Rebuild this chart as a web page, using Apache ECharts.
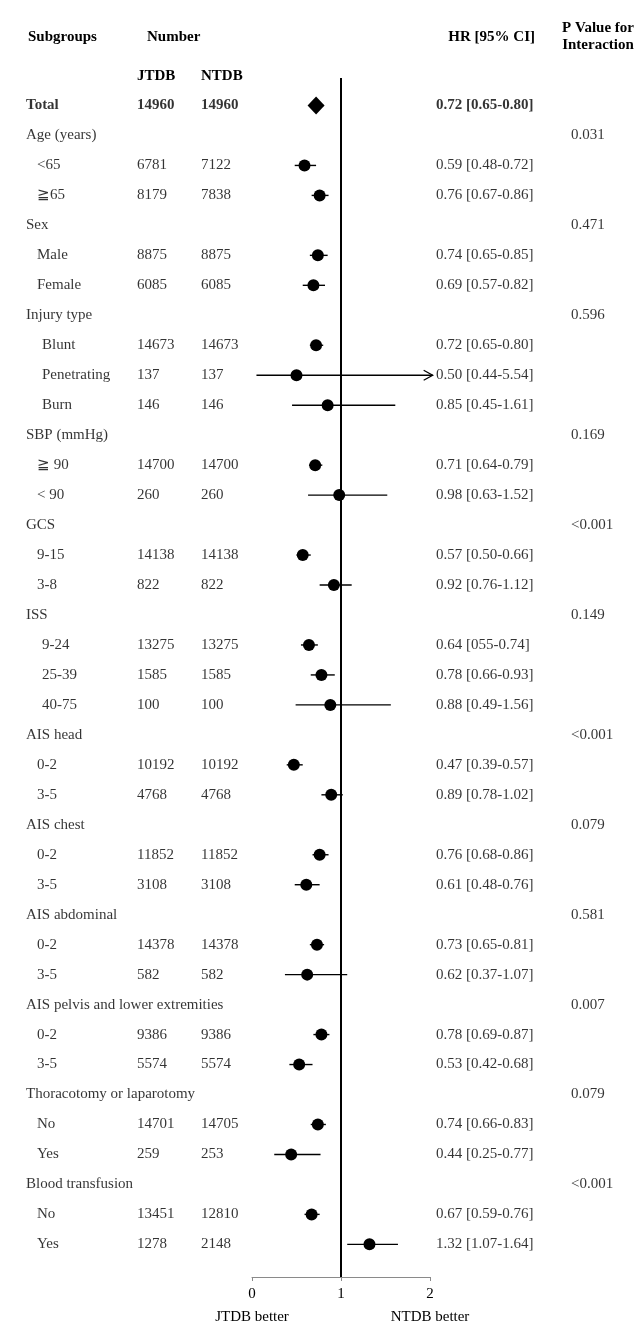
<!DOCTYPE html>
<html>
<head>
<meta charset="utf-8">
<script src="https://cdn.jsdelivr.net/npm/echarts@6/dist/echarts.min.js"></script>
<style>
html,body{margin:0;padding:0;background:#fff;}
#chart{width:644px;height:1342px;}
</style>
</head>
<body>
<div id="chart"></div>
<script>
// ---------------- DATA ----------------
const subgroups = ['Total','Age (years)','<65','≧65','Sex','Male','Female','Injury type','Blunt','Penetrating','Burn','SBP (mmHg)','≧ 90','< 90','GCS','9-15','3-8','ISS','9-24','25-39','40-75','AIS head','0-2','3-5','AIS chest','0-2','3-5','AIS abdominal','0-2','3-5','AIS pelvis and lower extremities','0-2','3-5','Thoracotomy or laparotomy','No','Yes','Blood transfusion','No','Yes'];
const jtdbN = ['14960','','6781','8179','','8875','6085','','14673','137','146','','14700','260','','14138','822','','13275','1585','100','','10192','4768','','11852','3108','','14378','582','','9386','5574','','14701','259','','13451','1278'];
const ntdbN = ['14960','','7122','7838','','8875','6085','','14673','137','146','','14700','260','','14138','822','','13275','1585','100','','10192','4768','','11852','3108','','14378','582','','9386','5574','','14705','253','','12810','2148'];
const hr  = [0.72,null,0.59,0.76,null,0.74,0.69,null,0.72,0.50,0.85,null,0.71,0.98,null,0.57,0.92,null,0.64,0.78,0.88,null,0.47,0.89,null,0.76,0.61,null,0.73,0.62,null,0.78,0.53,null,0.74,0.44,null,0.67,1.32];
const ciLo = [0.65,null,0.48,0.67,null,0.65,0.57,null,0.65,0.05,0.45,null,0.64,0.63,null,0.50,0.76,null,0.55,0.66,0.49,null,0.39,0.78,null,0.68,0.48,null,0.65,0.37,null,0.69,0.42,null,0.66,0.25,null,0.59,1.07];
const ciHi = [0.80,null,0.72,0.86,null,0.85,0.82,null,0.80,5.54,1.61,null,0.79,1.52,null,0.66,1.12,null,0.74,0.93,1.56,null,0.57,1.02,null,0.86,0.76,null,0.81,1.07,null,0.87,0.68,null,0.83,0.77,null,0.76,1.64];
const hrText = ['0.72 [0.65-0.80]','','0.59 [0.48-0.72]','0.76 [0.67-0.86]','','0.74 [0.65-0.85]','0.69 [0.57-0.82]','','0.72 [0.65-0.80]','0.50 [0.44-5.54]','0.85 [0.45-1.61]','','0.71 [0.64-0.79]','0.98 [0.63-1.52]','','0.57 [0.50-0.66]','0.92 [0.76-1.12]','','0.64 [055-0.74]','0.78 [0.66-0.93]','0.88 [0.49-1.56]','','0.47 [0.39-0.57]','0.89 [0.78-1.02]','','0.76 [0.68-0.86]','0.61 [0.48-0.76]','','0.73 [0.65-0.81]','0.62 [0.37-1.07]','','0.78 [0.69-0.87]','0.53 [0.42-0.68]','','0.74 [0.66-0.83]','0.44 [0.25-0.77]','','0.67 [0.59-0.76]','1.32 [1.07-1.64]'];
const pInteraction = ['','0.031','','','0.471','','','0.596','','','','0.169','','','<0.001','','','0.149','','','','<0.001','','','0.079','','','0.581','','','0.007','','','0.079','','','<0.001','',''];
const xTicks = ['0','1','2'];
const xSideLabels = {0:'JTDB better', 2:'NTDB better'};
const headers = {sub:'Subgroups', num:'Number', j:'JTDB', n:'NTDB', hr:'HR [95% CI]', p:'P Value for\nInteraction'};
const deepIndentGroups = ['Injury type', 'ISS'];

// ---------------- LAYOUT ----------------
const W = 644, H = 1342;
const FONT = '"Liberation Serif","Times New Roman",serif';
const FS = 15;
const ROW0_Y = 105.5, ROW_STEP = 29.97;
const PLOT_L = 252, PLOT_R = 430, PLOT_TOP = 78, AXIS_Y = 1277;
const X_MAX = 2, ARROW_END = 2.03;
const COL = {grp: 26, sub: 37, sub2: 42, j: 137, n: 201, hr: 436, p: 571};

const yMin0 = -(ROW0_Y - PLOT_TOP) / ROW_STEP;
const yMax0 = yMin0 + (AXIS_Y - PLOT_TOP) / ROW_STEP;
const yMin1 = -ROW0_Y / ROW_STEP;
const yMax1 = yMin1 + H / ROW_STEP;

const isGroup = i => jtdbN[i] === '' && i !== 0;
function parentGroup(i) {
  for (let k = i; k >= 0; k--) if (isGroup(k)) return subgroups[k];
  return null;
}
function subCol(i) {
  if (i === 0 || isGroup(i)) return COL.grp;
  return deepIndentGroups.indexOf(parentGroup(i)) >= 0 ? COL.sub2 : COL.sub;
}

function textSeries(name, colFn, textArr) {
  const data = [];
  textArr.forEach((t, i) => {
    if (t === '' || t == null) return;
    data.push({
      value: [colFn(i), i],
      label: {fontWeight: i === 0 ? 'bold' : 'normal'}
    });
  });
  return {
    type: 'scatter', name, xAxisIndex: 1, yAxisIndex: 1,
    symbolSize: 0, silent: true, clip: false,
    label: {
      show: true, position: 'right', distance: 0,
      fontFamily: FONT, fontSize: FS, color: '#000',
      formatter: p => textArr[p.value[1]]
    },
    data
  };
}

const ciData = [];
hr.forEach((v, i) => { if (v != null) ciData.push([i, ciLo[i], ciHi[i]]); });
const dotData = [];
hr.forEach((v, i) => { if (v != null && i !== 0) dotData.push([v, i]); });

const hdr = (text, x, y, align, extra) => ({
  type: 'text', x, y,
  style: Object.assign({text, font: 'bold 15px ' + FONT, fill: '#000', align, verticalAlign: 'middle', textAlign: align, textVerticalAlign: 'middle'}, extra || {})
});

const option = {
  animation: false,
  backgroundColor: '#fff',
  grid: [
    {left: PLOT_L, right: W - PLOT_R, top: PLOT_TOP, bottom: H - AXIS_Y},
    {left: 0, right: 0, top: 0, bottom: 0}
  ],
  xAxis: [
    {
      gridIndex: 0, type: 'value', min: 0, max: X_MAX, interval: 1,
      splitLine: {show: false},
      axisLine: {show: true, onZero: false, lineStyle: {color: '#8a8a8a', width: 1}},
      axisTick: {show: true, length: 4, lineStyle: {color: '#8a8a8a'}},
      axisLabel: {
        show: true, margin: 6, showMinLabel: true, showMaxLabel: true,
        formatter: v => {
          const k = Math.round(v);
          let s = '{n|' + xTicks[k] + '}';
          if (xSideLabels[k]) s += '\n{t|' + xSideLabels[k] + '}';
          return s;
        },
        rich: {
          n: {fontFamily: FONT, fontSize: FS, color: '#000', lineHeight: 23},
          t: {fontFamily: FONT, fontSize: FS, color: '#000', lineHeight: 23}
        }
      }
    },
    {gridIndex: 1, type: 'value', min: 0, max: W, show: false}
  ],
  yAxis: [
    {gridIndex: 0, type: 'value', inverse: true, min: yMin0, max: yMax0, show: false, splitLine: {show: false}},
    {gridIndex: 1, type: 'value', inverse: true, min: yMin1, max: yMax1, show: false, splitLine: {show: false}}
  ],
  graphic: [
    hdr(headers.sub, 28, 37, 'left'),
    hdr(headers.num, 147, 37, 'left'),
    hdr(headers.j, 137, 76, 'left'),
    hdr(headers.n, 201, 76, 'left'),
    hdr(headers.hr, 535, 37, 'right'),
    hdr(headers.p, 598, 36.5, 'center', {lineHeight: 17})
  ],
  series: [
    {
      type: 'custom', name: 'ci', xAxisIndex: 0, yAxisIndex: 0, silent: true, clip: false,
      encode: {x: [1, 2], y: 0},
      data: ciData,
      renderItem: (params, api) => {
        const row = api.value(0), lo = api.value(1), hi = api.value(2);
        const clipped = hi > X_MAX;
        const a = api.coord([lo, row]);
        const b = api.coord([clipped ? ARROW_END : hi, row]);
        const children = [{
          type: 'line', shape: {x1: a[0], y1: a[1], x2: b[0], y2: b[1]},
          style: {stroke: '#000', lineWidth: 1.4}
        }];
        if (clipped) {
          children.push({
            type: 'polyline', shape: {points: [[b[0] - 9, b[1] - 5], [b[0], b[1]], [b[0] - 9, b[1] + 5]]},
            style: {stroke: '#000', lineWidth: 1.3, fill: null}
          });
        }
        return {type: 'group', children};
      },
      markLine: {
        silent: true, symbol: ['none', 'none'], label: {show: false},
        lineStyle: {color: '#000', width: 2, type: 'solid', opacity: 1},
        data: [{xAxis: 1}]
      }
    },
    {
      type: 'scatter', name: 'hr', xAxisIndex: 0, yAxisIndex: 0, silent: true, clip: false,
      symbol: 'circle', symbolSize: 12, itemStyle: {color: '#000', opacity: 1},
      data: dotData
    },
    {
      type: 'scatter', name: 'total', xAxisIndex: 0, yAxisIndex: 0, silent: true, clip: false,
      symbol: 'diamond', symbolSize: [17, 18], itemStyle: {color: '#000', opacity: 1},
      data: [[hr[0], 0]]
    },
    textSeries('subgroups', subCol, subgroups),
    textSeries('jtdb', () => COL.j, jtdbN),
    textSeries('ntdb', () => COL.n, ntdbN),
    textSeries('hrtext', () => COL.hr, hrText),
    textSeries('pval', () => COL.p, pInteraction)
  ]
};

const chart = echarts.init(document.getElementById('chart'), null, {renderer: 'canvas'});
chart.setOption(option);
</script>
</body>
</html>
